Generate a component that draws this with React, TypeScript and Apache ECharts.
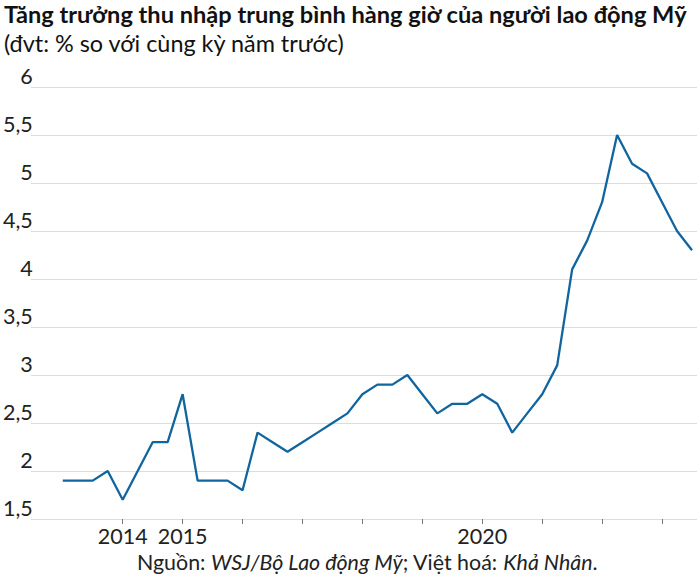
import React, { useEffect, useRef } from 'react';
import * as echarts from 'echarts';

// quarterly readings, first point = Q1 2013
const startYear = 2013;
const wageGrowth = [
  1.9, 1.9, 1.9, 2.0, 1.7, 2.0, 2.3, 2.3, 2.8, 1.9, 1.9,
  1.9, 1.8, 2.4, 2.3, 2.2, 2.3, 2.4, 2.5, 2.6, 2.8, 2.9,
  2.9, 3.0, 2.8, 2.6, 2.7, 2.7, 2.8, 2.7, 2.4, 2.6, 2.8,
  3.1, 4.1, 4.4, 4.8, 5.5, 5.2, 5.1, 4.8, 4.5, 4.3
];
const tickYears = [2014, 2015, 2016, 2017, 2018, 2019, 2020, 2021, 2022, 2023];
const labelYears = [2014, 2015, 2020];

const TITLE = 'Tăng trưởng thu nhập trung bình hàng giờ của người lao động Mỹ';
const SUBTITLE = '(đvt: % so với cùng kỳ năm trước)';

const FONT = 'Lato, "Noto Sans", sans-serif';
const LINE_COLOR = '#11659f';

const App: React.FC = () => {
  const chartRef = useRef<HTMLDivElement>(null);

  useEffect(() => {
    document.body.style.margin = '0';
    if (!chartRef.current) return;
    const chart = echarts.init(chartRef.current, undefined, { renderer: 'svg' });

    const points = wageGrowth.map((v, i) => [startYear + i / 4, v]);

    chart.setOption({
      animation: false,
      textStyle: { fontFamily: FONT },
      grid: { left: 30, right: 3, top: 87, bottom: 65 },
      xAxis: {
        type: 'value',
        min: 2012.4667,
        max: 2023.5833,
        axisLine: { show: false },
        splitLine: { show: false },
        axisTick: {
          show: true,
          customValues: tickYears,
          length: 5,
          lineStyle: { color: '#777', width: 1 }
        },
        axisLabel: {
          customValues: labelYears,
          fontSize: 21.5,
          color: '#222',
          margin: 6,
          fontFamily: FONT,
          formatter: (v: number) => String(v)
        }
      },
      yAxis: {
        type: 'value',
        min: 1.5,
        max: 6,
        interval: 0.5,
        axisLine: { show: false },
        axisTick: { show: false },
        splitLine: { lineStyle: { color: '#dcdcdc', width: 1 } },
        axisLabel: {
          fontSize: 21.5,
          color: '#222',
          margin: -2,
          verticalAlign: 'bottom',
          fontFamily: FONT,
          formatter: (v: number) => String(v).replace('.', ',')
        }
      },
      series: [
        {
          type: 'line',
          data: points,
          showSymbol: false,
          lineStyle: { color: LINE_COLOR, width: 2.3 },
          itemStyle: { color: LINE_COLOR }
        }
      ],
      graphic: [
        {
          type: 'text',
          left: 4,
          top: 2,
          style: {
            text: TITLE,
            font: `bold 23.6px ${FONT}`,
            fill: '#111'
          }
        },
        {
          type: 'text',
          left: 4,
          top: 31,
          style: {
            text: SUBTITLE,
            font: `23.4px ${FONT}`,
            fill: '#111'
          }
        },
        {
          type: 'text',
          left: 137,
          top: 551,
          style: {
            text: '{n|Nguồn: }{i|WSJ/Bộ Lao động Mỹ}{n|; Việt hoá: }{i|Khả Nhân}{n|.}',
            rich: {
              n: { fontSize: 21.4, fontFamily: FONT, fill: '#222' },
              i: { fontSize: 21.4, fontFamily: FONT, fontStyle: 'italic', fill: '#222' }
            }
          }
        }
      ]
    });

    return () => {
      chart.dispose();
    };
  }, []);

  return <div ref={chartRef} style={{ width: 700, height: 584 }} />;
};

export default App;
